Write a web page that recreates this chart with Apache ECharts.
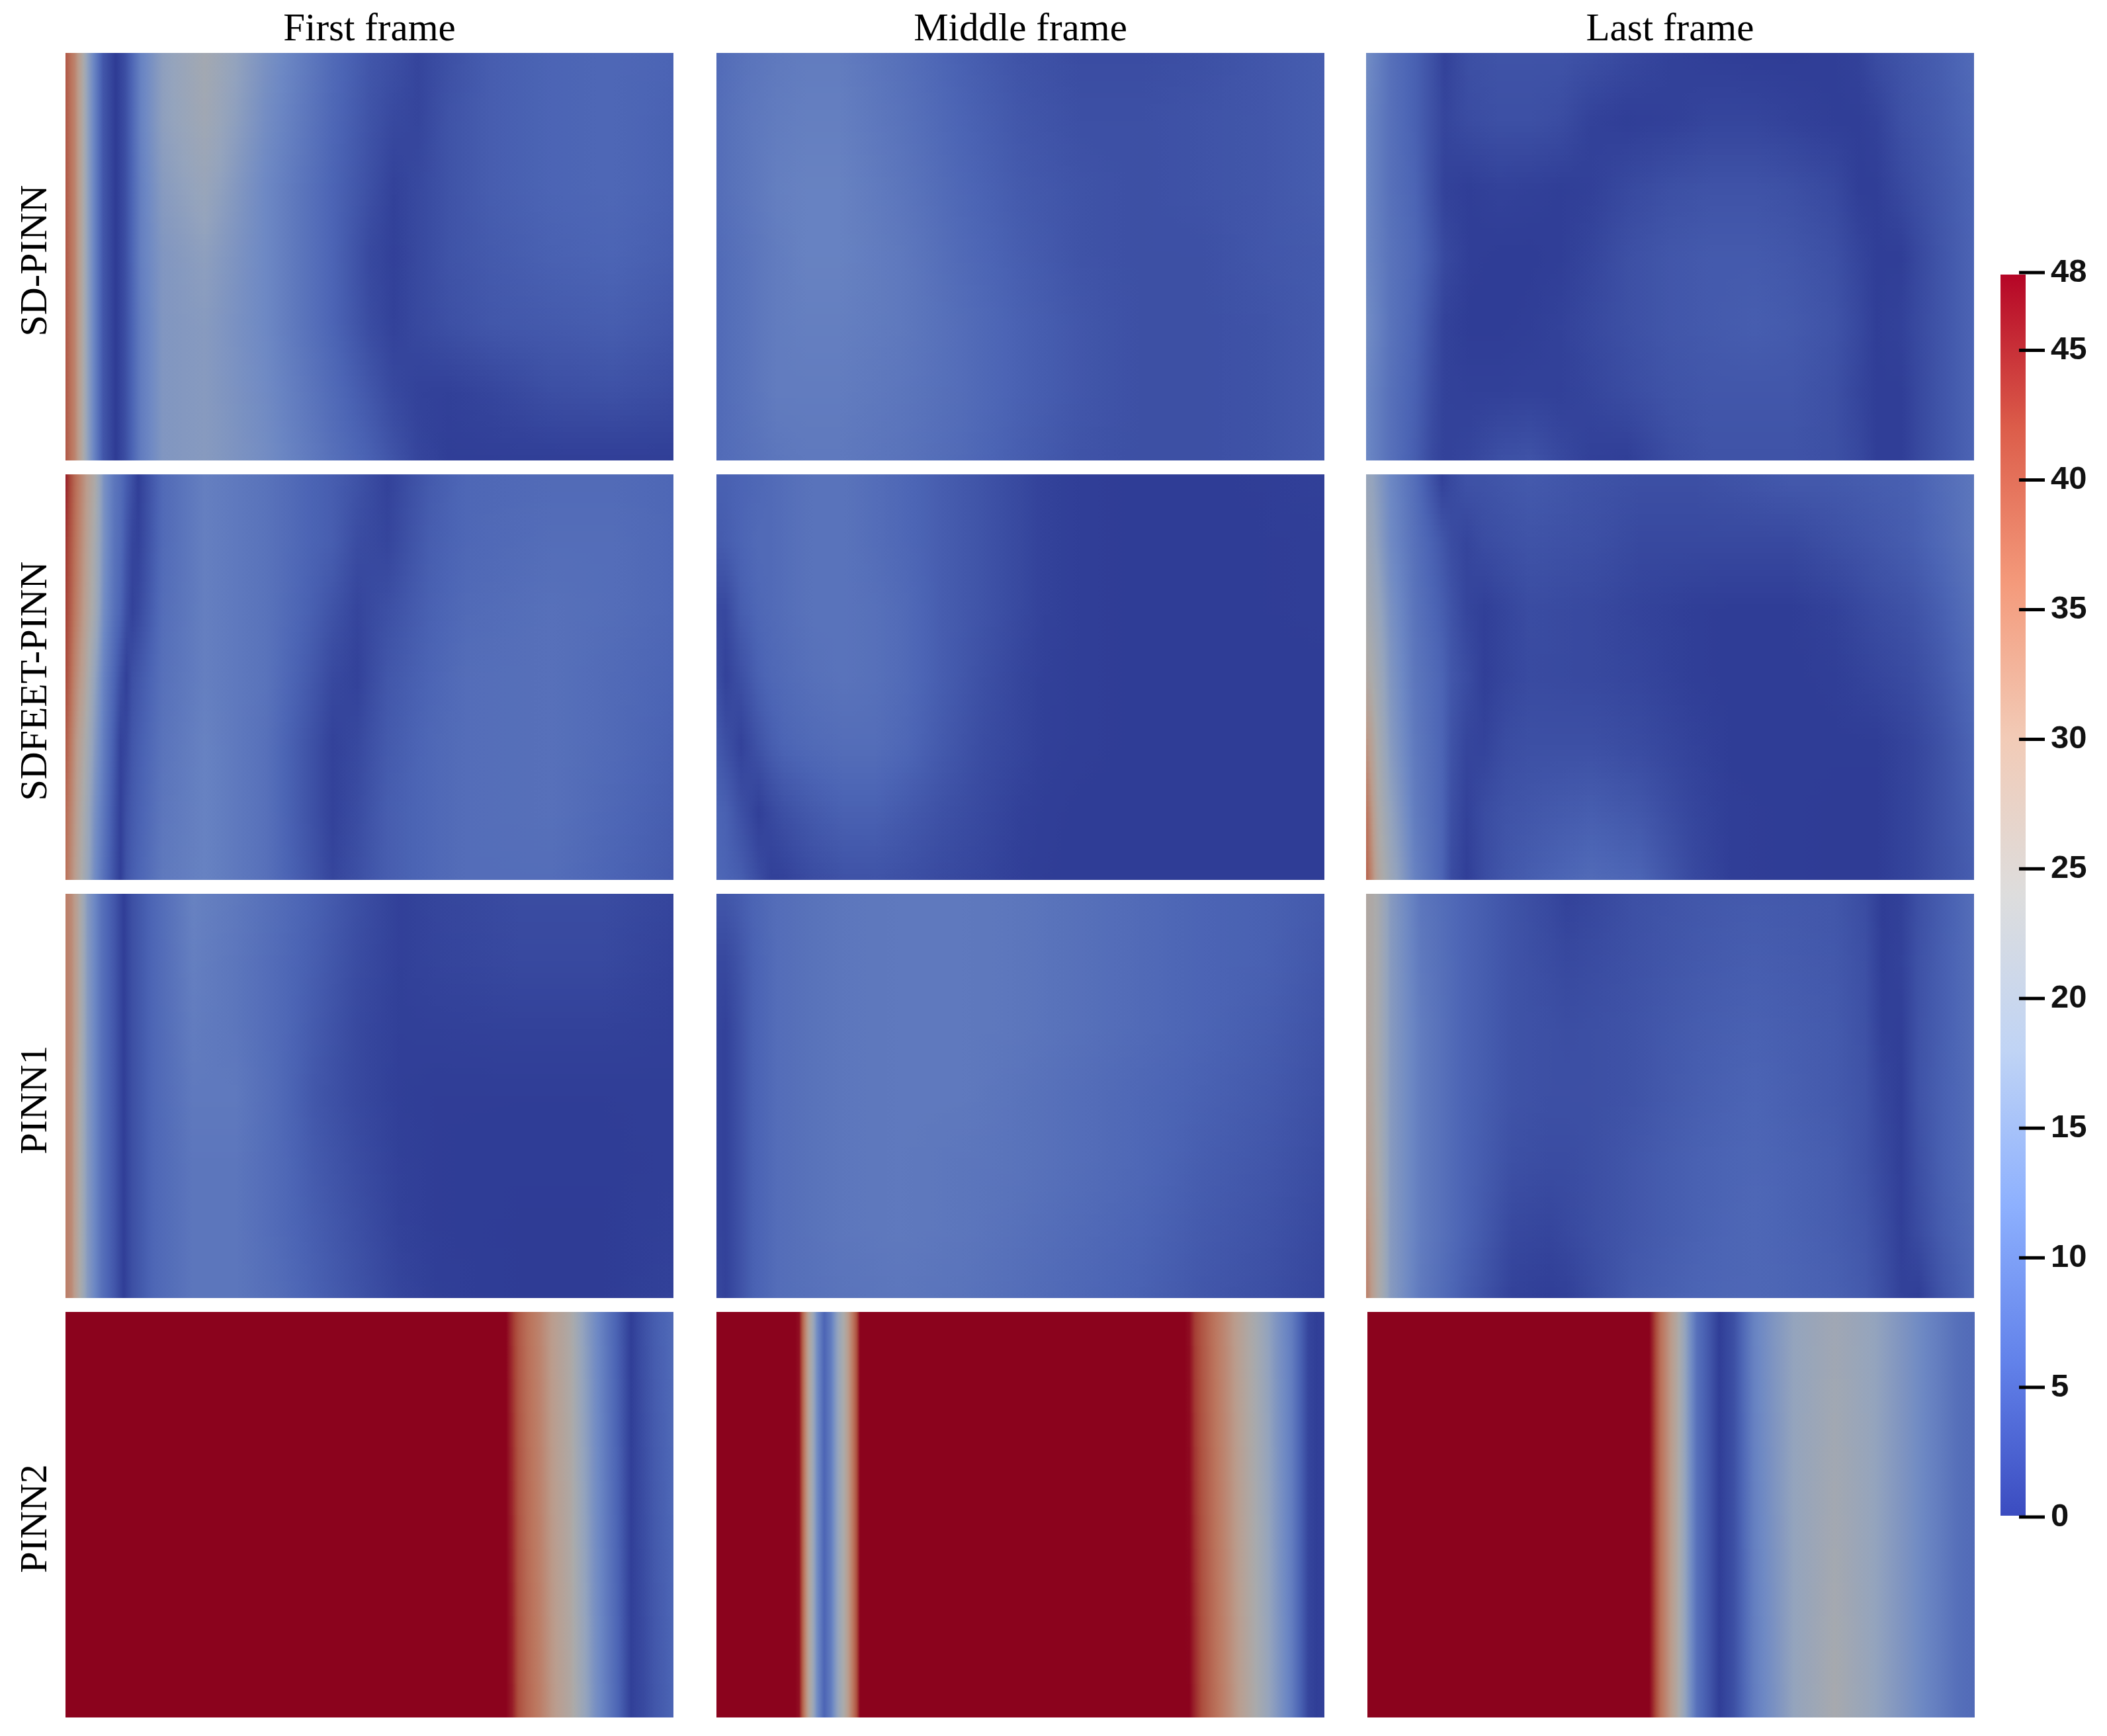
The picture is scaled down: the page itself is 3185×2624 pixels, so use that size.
<!DOCTYPE html>
<html><head><meta charset="utf-8">
<style>html,body{margin:0;padding:0;background:#fff}#c{width:3185px;height:2624px}</style>
<script src="https://cdn.jsdelivr.net/npm/echarts@6/dist/echarts.min.js"></script>
</head><body><div id="c"></div>
<script>
const columnLabels = ['First frame','Middle frame','Last frame'];
const rowLabels = ['SD-PINN','SDFEET-PINN','PINN1','PINN2'];
const colorbarTicks = [0,5,10,15,20,25,30,35,40,45,48];
const colorbarLevels = [0.05,6,12,18,24,30,36,42,47.92];
const colormapStops = [[59,76,192],[98,130,234],[141,176,254],[192,212,245],[221,221,221],[242,203,183],[244,154,123],[220,93,74],[180,4,38]];

const sdFirstX = [0,1.5,2.6,3.7,4.8,6.2,8.3,9.9,12.4,16,23,33,44,50,54,58,63,70,80,90,100];
const sdFirst = [
[40,34,27,17,11,4,0,3,11,17,22,14,7,4,3,1.5,3,5,6,6.5,6],
[40,34,27,17,11,4,0,3,11,17,21,13,6.5,3.5,2,1.5,3.5,5,6,6.5,5.5],
[40,34,27,17,11,4,0,3,10.5,16,19,12,6,3,1,2,3.5,5,6,6.5,5.5],
[40,34,27,17,11,4,0,3,10.5,15,17,12,6,2,.8,2,3.5,4.5,5.5,6,5],
[40,34,27,17,11,4,0,3,10,15,16,12,6,2.5,1,2,3,4,4.5,5,4],
[40,34,27,17,11,4,0,3,10,15,16,12.5,7,4,2,1,.8,1.5,2.8,3.2,2.5],
[40,34,27,17,11,4,0,3,10,15,16,13,8,5.5,3.5,1.5,.5,.5,.5,.5,.5]];
const sdMiddleX = [0,5,10,15,20,30,40,50,60,70,80,90,100];
const sdMiddle = [
[7,8.5,9.5,10,10,8,5.5,3.5,2.5,2.5,3,4,5],
[7.5,9,10,10.5,10.5,8.5,6,4,3,3,3.5,4,5],
[7.5,9,10.5,11,11,9,6.5,4.5,3.5,3,3.5,4,5],
[7,8.5,10,11,11,9.5,7,5,3.5,3,3,4,4.5],
[7,8.5,10,10.5,10.5,9.5,7.5,5.5,4,3,3,3.5,4.5],
[7,8.5,10,10,10,9,7.5,5.5,4,3,3,3.5,4.5],
[7,8,9,9.5,9.5,8.5,7,5,3.5,3,3,3.5,4.5]];
const sdLastX = [0,4,8,11,13,17,22,27,32,37,43,50,57,64,70,77,81,84,88,94,100];
const sdLast = [
[13,8,5.5,3,1,3,3.5,3.5,3.5,3,2,1,.5,.3,.3,.5,1,2.5,3.5,5,7],
[12,8,5.5,3,1.5,2.5,3,3,2.5,1,.5,.8,1.5,1.5,1,.5,.5,1,3,4.5,6.5],
[12,8,6,3,1,.5,1,.8,.5,.8,2,3,3.5,3.5,3,2,.5,.5,2,4,6],
[12,8.5,6.5,4,2,.5,.3,.3,.5,1.5,3,4,4.5,4.5,4,3,1.5,.5,.5,3.5,6],
[13,8.5,6,3,1,.3,.3,.5,1,2,3,4,4.5,5,4.5,3.5,2,.5,1,3.5,6],
[12,8,5.5,2.5,1,.8,.8,1,.8,1.5,2.5,3.5,4,4,4,3,1.5,.5,.5,3.5,6],
[12,8,5,2,1,1.5,3,3.5,2,.8,.5,2.5,3.5,3.5,3.5,3,2,.5,.5,3.5,6]];

const feetFirstX = [0,1.5,3,4.8,6.3,8,9,10,11,12,16,23,33,40,44,48,53,60,66,80,90,100];
const feetFirst = [
[46,38,32,25,14,9,7.5,5,3,.5,7,10.5,8.5,6,5,3.5,1,4.5,6.5,7,7,6.5],
[44,37,31,23,14,8.5,7,4,1.5,1,7,10.5,8.5,6,5,2.5,1.5,5,6.5,7.5,7.5,6.5],
[43,36,30,22,13,8,6,3,1,2,7.5,10.5,8.5,5.5,3.5,1.5,3,5.5,7,8,7.5,6.5],
[42,34,28,18,11,6,3,.7,3,4,8,10.5,8.5,4.5,2,1,4,6,7.5,8,7,6],
[40,32,25,16,10,4.5,1,2,4,5,8.5,11,8,3.5,1,2,4.5,6.5,7.5,8,7,5.5],
[38,31,23,14,9,3.5,.7,3,4.5,5.5,9,11,8,3.5,1,2.5,5,6.5,7.5,8,6.5,5],
[37,30,22,13,8,3,.5,3.5,5,6,9.5,11,8,4,1.5,3,5,6.5,7.5,7.5,6,4.5]];
const feetMiddleX = [0,1.5,4,7,9,11,16,21,26,31,37,44,50,54,60,70,85,100];
const feetMiddle = [
[5.5,5.5,6,6.5,7,7.5,8.5,8.5,7.5,6.5,5,3.5,2,1,.5,.3,.3,.8],
[4.5,5,6,7,7,7.5,8.5,8.5,7.5,6.5,5,3.5,2,1,.5,.3,.3,.5],
[2,2,5,6.5,7,7.5,8.5,8.5,8,7,5,3.5,2,1,.5,.3,.3,.5],
[3,1,3,5.5,6.5,7,8,8.5,8,7,5,3,1.5,.8,.5,.3,.3,.3],
[4.5,3,1,3.5,5,6,7,7.5,7.5,6.5,4.5,2.5,1.5,.7,.5,.3,.3,.3],
[6,5.5,3,.7,2,3,4.5,5.5,5.5,4.5,3.2,2,.8,.5,.3,.3,.3,.3],
[6.5,6,5,2.5,.8,1,2.5,3.3,3.5,3,2.2,1.5,.6,.4,.3,.3,.3,.3]];
const feetLastX = [0,1,2,4,8,12.5,14,16.5,19.5,23,27,37,45,54,60,70,77,84,90,94,100];
const feetLast = [
[19,18,16,12,7.5,.8,2,3.5,3.5,4,4.5,3.5,3,3,3.5,4.5,4.5,5,5.5,7,9],
[21,19,17,12.5,8,4,2.5,1.5,2.5,3,3.5,3,2,2,2,2,3,4,5,6.5,9],
[23,21,19,14,8.5,5,3.5,1.5,.7,1.5,2.5,2,1.2,.5,.3,.3,1,2.5,3.5,5,8],
[26,24,21,15,9,6,4,2.5,.6,1.5,2.3,2,1.5,.5,.3,.3,.5,1.5,2.5,4,7],
[32,28,23,16,9.5,6,3.5,1.5,1.2,2.5,3,3,2.3,1,.3,.3,.3,.3,1.5,3,6],
[37,31,25,18,10,6,3,1,2.5,3.5,4,5,4,1.5,.5,.3,.2,.2,1.5,3,5.5],
[39,33,27,20,11,6,2.5,.6,2.5,4,5,7,6,2,.5,.3,.2,.2,1.5,3,5]];

const pinn1FirstX = [0,1,2,3.6,6,8,9.6,11,14.6,21,28,35,41,48,55,61,75,88,100];
const pinn1First = [
[35,33,28,16,8,4,.5,3,6.5,11,9.5,7.5,5.5,3,.8,1.5,2.5,2.5,1.5],
[35,33,28,16,8,4,.5,3,6.5,10.5,9,7,5,2.5,.8,1.3,2,2,1],
[35,33,28,16,8,4,.5,3,6.5,10,9,7,4.5,2,.7,.8,1,1,.7],
[35,33,27,16,8,4,.5,3,6.5,9.5,9.5,7,4,2,.6,.4,.4,.4,.5],
[35,33,27,16,8,4,.5,3,6.5,9,9,7,4.5,2.5,.8,.4,.3,.3,.5],
[35,33,27,16,8,4,.5,3,6.5,9,9,7,5,3,1,.4,.2,.2,.7],
[35,33,27,16,8,4,.5,3,6.5,9,9,7.5,5.5,3.5,1.5,.6,.2,.2,1]];
const pinn1MiddleX = [0,1.5,3,6,10,20,30,40,50,60,70,80,90,100];
const pinn1Middle = [
[4,4,4.5,6,7.5,9,9.5,9.5,9,8,7,6,5.5,4.5],
[2,2,3,5.5,7.5,9,9.5,9.5,9,8,7,6,5.5,4],
[1.5,1,2.5,5.5,7.5,9,9.5,9.5,9,8,7,6,5,3.5],
[1.5,1,2.5,5.5,7.5,9,9.5,9.5,8.5,7.5,6.5,5.5,4.5,3],
[1.5,1,2.5,5.5,7.5,9,9.5,9,8.5,7.5,6.5,5,4,2.5],
[1.5,1,2.5,5.5,7.5,9,9.5,9,8,7,6,4.5,3.5,2],
[2,1,2.5,5.5,7.5,8.5,9,8.5,7.5,6.5,5.5,4,3,1.5]];
const pinn1LastX = [0,1,2,4,9,16,24,30,33,38,44,54,64,77,82,85,88,91,95,100];
const pinn1Last = [
[26,25,23,16,9,6,3.5,2,1,1.8,3,4,4.5,4,2.5,.3,.8,3,5,7.5],
[26,25,23,16,9.5,6,3.5,2.5,2,2.5,3.2,4.3,5,4.2,3,.5,1,3.3,5.3,7.5],
[27,25,23,16,10,6,3.5,3,2.7,3,3.5,4.8,5.5,4.5,3.2,.8,.6,3.4,5.3,7.5],
[28,26,23,16,10,6,3.5,3,3,3,3.5,5,6,4.5,3.5,1.5,.5,3.5,5.5,7.5],
[30,27,24,16,10,6,3,2.5,2.5,3,4,5.5,6.3,5,3.5,2,.6,3,5.5,7.5],
[33,29,25,16,10,6,2,1.5,2,3,4,5.5,6.5,5,4,2.5,.7,2.5,5,7],
[35,30,25,16,9.5,5,1,.5,.7,2.5,4.5,6,6.5,5.5,4.5,3,1,.5,3.8,6.5]];

const pinn2FirstX = [0,72.5,73.5,74.5,76,78,80,83,85,87,89,91,93,95,97,100];
const pinn2First = [
[48,48,44,40,37,34,30,25,18,13,9,5,.5,3,5,7],
[48,48,46,41,38,35,31,26,20,14,10,6,.8,2,4,6]];
const pinn2MiddleX = [0,13,13.6,14.3,15.3,16.5,17.7,18.8,19.8,20.9,22.2,23,23.6,77,77.8,78.7,80,81.5,84.3,87.7,91.9,94.7,97.4,98.8,100];
const pinn2Middle = [
[48,48,47,38,26,13,6,10,17,24,34,40,48,48,47,43,40,37,32,25,15,10,1.5,.5,1],
[48,48,47,38,26,13,6,10,17,24,34,40,48,48,48,45,41,38,33,26,16,10,1.5,.5,1]];
const pinn2LastX = [0,46.4,46.9,48.3,49.6,51,52.3,54.3,56.3,58,60.3,63.6,67,70.3,77,83.6,90.3,97,100];
const pinn2Last = [
[48,48,45,37,32,26,18,8,4,.5,3,11,15,18,21,18,13,8,7],
[48,48,45,37,32,26,18,8,4,.5,3,10,14,18,23,18,13,8,7]];

const panelKnots = [[sdFirstX,sdMiddleX,sdLastX],[feetFirstX,feetMiddleX,feetLastX],[pinn1FirstX,pinn1MiddleX,pinn1LastX],[pinn2FirstX,pinn2MiddleX,pinn2LastX]];
const panelValues = [[sdFirst,sdMiddle,sdLast],[feetFirst,feetMiddle,feetLast],[pinn1First,pinn1Middle,pinn1Last],[pinn2First,pinn2Middle,pinn2Last]];

const SHADE = 0.772, STRIPS = 12;
const colLeft = [99,1083,2065], panelW = 919;
const rowTop = [80,717,1351,1983], rowH = [616,613,611,613];

function cmap(v, shade){
  const t = Math.max(0, Math.min(1, v/48)) * (colormapStops.length-1);
  const i = Math.min(colormapStops.length-2, Math.floor(t)), f = t-i;
  const a = colormapStops[i], b = colormapStops[i+1];
  return 'rgb(' + [0,1,2].map(k => Math.round((a[k]+(b[k]-a[k])*f)*shade)).join(',') + ')';
}

const grids=[], xAxes=[], yAxes=[], series=[];
rowLabels.forEach((rl,r)=>columnLabels.forEach((cl,c)=>{
  const gi = grids.length, X = panelKnots[r][c], V = panelValues[r][c], nr = V.length-1;
  const left = colLeft[c] + (r===3&&c===2?2:0);
  grids.push({left, top:rowTop[r], width:panelW-(r===3&&c===2?1:0), height:rowH[r], outerBoundsMode:'none'});
  xAxes.push({type:'value',gridIndex:gi,min:0,max:100,position:'top',name:r===0?cl:'',nameLocation:'middle',nameGap:5,
    nameTextStyle:{fontFamily:'Liberation Serif',fontSize:59,color:'#000'},
    axisLine:{show:false},axisTick:{show:false},axisLabel:{show:false},splitLine:{show:false}});
  yAxes.push({type:'value',gridIndex:gi,min:0,max:100,inverse:true,name:c===0?rl:'',nameLocation:'middle',nameGap:15,nameRotate:90,
    nameTextStyle:{fontFamily:'Liberation Serif',fontSize:58,color:'#000',padding:[0,12,0,0]},
    axisLine:{show:false},axisTick:{show:false},axisLabel:{show:false},splitLine:{show:false}});
  const data=[];
  V.forEach((row,j)=>row.forEach((v,k)=>data.push([X[k], j*100/nr, v, k, j])));
  series.push({type:'custom',xAxisIndex:gi,yAxisIndex:gi,data,silent:true,clip:false,progressive:0,animation:false,
    encode:{x:0,y:1},
    renderItem(p,api){
      const k=api.value(3), j=api.value(4);
      if(k>=X.length-1||j>=nr) return null;
      const p0=api.coord([X[k],j*100/nr]), p1=api.coord([X[k+1],(j+1)*100/nr]);
      const x0=Math.round(p0[0]), x1=Math.round(p1[0]);
      const children=[];
      for(let s=0;s<STRIPS;s++){
        const y0=Math.round(p0[1]+(p1[1]-p0[1])*s/STRIPS), y1=Math.round(p0[1]+(p1[1]-p0[1])*(s+1)/STRIPS);
        if(y1<=y0||x1<=x0) continue;
        const f=(s+.5)/STRIPS;
        const l=V[j][k]+(V[j+1][k]-V[j][k])*f, rv=V[j][k+1]+(V[j+1][k+1]-V[j][k+1])*f;
        const colorStops=[0,.25,.5,.75,1].map(t=>({offset:t,color:cmap(l+(rv-l)*t,SHADE)}));
        children.push({type:'rect',shape:{x:x0,y:y0,width:x1-x0,height:y1-y0},
          style:{fill:{type:'linear',x:0,y:0,x2:1,y2:0,colorStops}}});
      }
      return {type:'group',children};
    }});
}));

// colour bar
const gb = grids.length;
grids.push({left:3024,top:412,width:38,height:1881,outerBoundsMode:'none'});
xAxes.push({type:'value',gridIndex:gb,min:0,max:1,show:false});
yAxes.push({type:'value',gridIndex:gb,min:0,max:48,position:'right',offset:13,z:5,
  axisLine:{show:false},splitLine:{show:false},axisTick:{show:false},
  axisLabel:{show:true,customValues:colorbarTicks,margin:25,padding:[0,0,8,0],fontFamily:'Liberation Sans',fontWeight:'bold',fontSize:49,color:'#111'}});
series.push({type:'custom',xAxisIndex:gb,yAxisIndex:gb,silent:true,clip:false,progressive:0,animation:false,z:2,
  data:colorbarLevels.map((v,i)=>[0,v,i]),encode:{x:0,y:1},
  renderItem(p,api){
    const i=api.value(2);
    if(i>=colorbarLevels.length-1) return null;
    const a=api.coord([0,colorbarLevels[i]]), b=api.coord([1,colorbarLevels[i+1]]);
    const y0=Math.round(b[1]), y1=Math.round(a[1]);
    return {type:'rect',shape:{x:a[0],y:y0,width:b[0]-a[0],height:y1-y0},
      style:{fill:{type:'linear',x:0,y:0,x2:0,y2:1,colorStops:[{offset:0,color:cmap(colorbarLevels[i+1],1)},{offset:1,color:cmap(colorbarLevels[i],1)}]}}};
  }});
// tick marks of the colour bar, straddling its right edge
series.push({type:'custom',xAxisIndex:gb,yAxisIndex:gb,silent:true,clip:false,progressive:0,animation:false,z:6,
  data:colorbarTicks.map(v=>[0,v]),encode:{x:0,y:1},
  renderItem(p,api){
    const a=api.coord([0.737,api.value(1)]), b=api.coord([1.763,api.value(1)]);
    return {type:'line',shape:{x1:a[0],y1:a[1],x2:b[0],y2:b[1]},style:{stroke:'#000',lineWidth:5}};
  }});

const chart = echarts.init(document.getElementById('c'),null,{renderer:'canvas',width:3185,height:2624});
chart.setOption({backgroundColor:'#fff',animation:false,grid:grids,xAxis:xAxes,yAxis:yAxes,series});
</script></body></html>
